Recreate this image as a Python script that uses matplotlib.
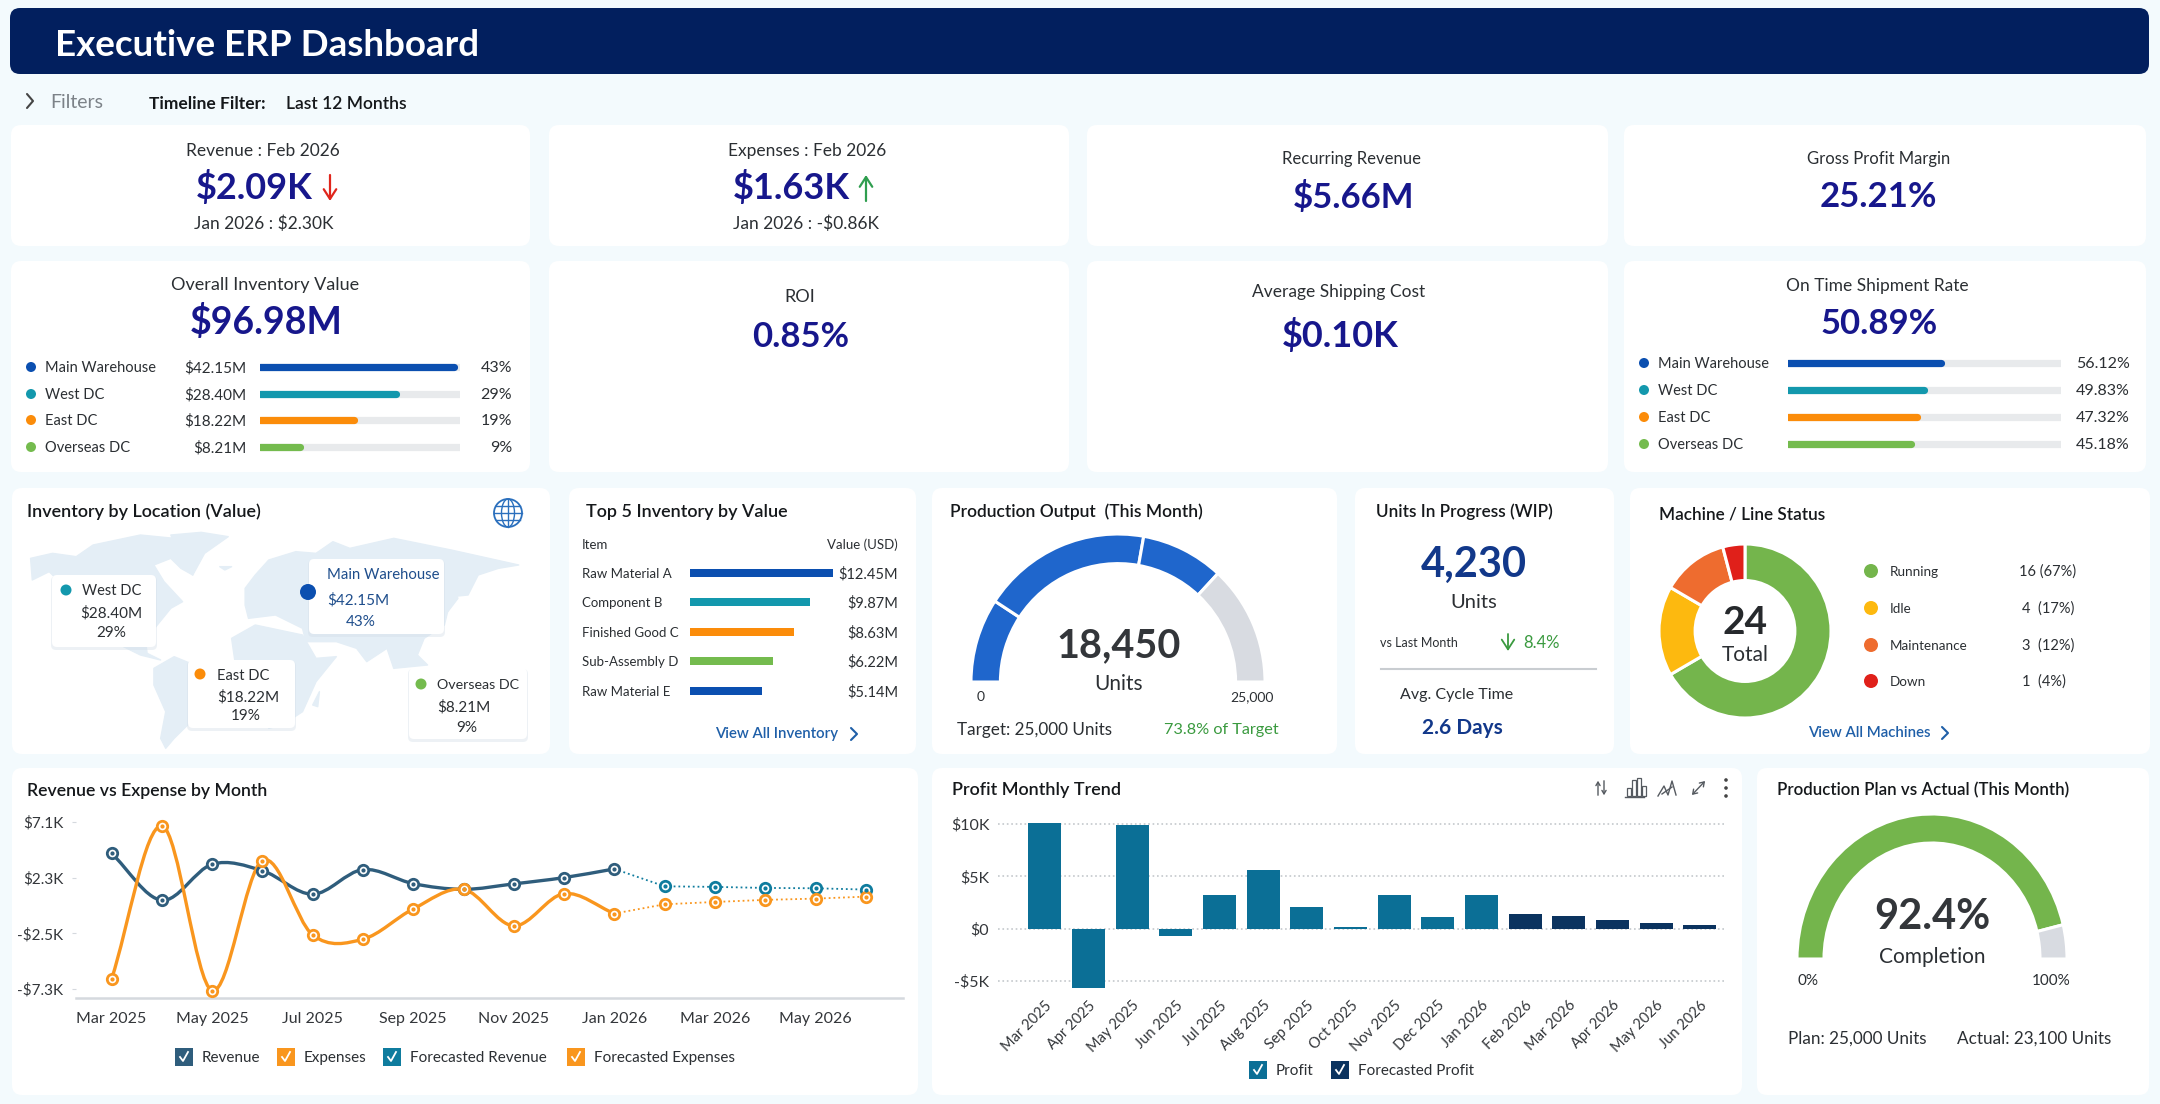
#!/usr/bin/python
import numpy as np
import matplotlib
matplotlib.use('Agg')
import matplotlib.pyplot as plt
from matplotlib.patches import FancyBboxPatch, Polygon, Circle, Ellipse, PathPatch, Rectangle
from matplotlib.path import Path

plt.rcParams['font.family'] = ['Lato', 'DejaVu Sans']

W, H = 2160, 1104

# line chart
line_months = ['Mar 2025', 'May 2025', 'Jul 2025', 'Sep 2025', 'Nov 2025', 'Jan 2026', 'Mar 2026', 'May 2026']
revenue = [4.40, 0.35, 3.45, 2.90, 0.87, 2.99, 1.78, 1.29, 1.76, 2.30, 3.05]
expenses = [-6.46, 6.76, -7.44, 3.77, -2.64, -3.01, -0.40, 1.29, -1.86, 0.92, -0.80]
fc_revenue = [1.55, 1.50, 1.41, 1.38, 1.27]
fc_expenses = [0.00, 0.20, 0.38, 0.49, 0.66]
line_ticks = [7.1, 2.3, -2.5, -7.3]
line_tick_labels = ['$7.1K', '$2.3K', '-$2.5K', '-$7.3K']

# bar chart
bar_months = ['Mar 2025', 'Apr 2025', 'May 2025', 'Jun 2025', 'Jul 2025', 'Aug 2025', 'Sep 2025', 'Oct 2025',
              'Nov 2025', 'Dec 2025', 'Jan 2026', 'Feb 2026', 'Mar 2026', 'Apr 2026', 'May 2026', 'Jun 2026']
profit = [10.1, -5.64, 9.95, -0.73, 3.2, 5.58, 2.05, 0.13, 3.2, 1.09, 3.2]
fc_profit = [1.44, 1.19, 0.87, 0.58, 0.38]
bar_ticks = [10, 5, 0, -5]
bar_tick_labels = ['$10K', '$5K', '$0', '-$5K']

# small tables
sites = ['Main Warehouse', 'West DC', 'East DC', 'Overseas DC']
site_colors = ['#0b4fb0', '#1398ad', '#fb8c0a', '#74bb4e']
inv_values = ['$42.15M', '$28.40M', '$18.22M', '$8.21M']
inv_pct = ['43%', '29%', '19%', '9%']
inv_fill = [0.97, 0.68, 0.47, 0.20]
ship_pct = [56.12, 49.83, 47.32, 45.18]
top5_items = ['Raw Material A', 'Component B', 'Finished Good C', 'Sub-Assembly D', 'Raw Material E']
top5_values = ['$12.45M', '$9.87M', '$8.63M', '$6.22M', '$5.14M']
top5_bars = [12.45, 10.45, 9.05, 7.2, 6.25]
top5_colors = ['#0b4fb0', '#1398ad', '#fb8c0a', '#74bb4e', '#0b4fb0']
output_parts = [4600, 9300, 4550, 6550]
output_colors = ['#1f66cc', '#1f66cc', '#1f66cc', '#d8dbe1']
plan_parts = [92.4, 7.6]
plan_colors = ['#74b54c', '#d8dbe1']
machine_names = ['Running', 'Idle', 'Maintenance', 'Down']
machine_counts = [16, 4, 3, 1]
machine_labels = ['16 (67%)', '4  (17%)', '3  (12%)', '1  (4%)']
machine_colors = ['#74b54c', '#fdb90f', '#ee6c2f', '#e0201a']

DARK = '#2b2f33'
TITLE = '#15181b'
NAVY = '#17178c'
GREEN = '#3a9a3f'
LINK = '#1f5fa8'

fig = plt.figure(figsize=(W / 100, H / 100), dpi=100, facecolor='#f3fafd')
bg = fig.add_axes([0, 0, 1, 1])
bg.set_xlim(0, W)
bg.set_ylim(H, 0)
bg.axis('off')


def px_axes(x0, y0, x1, y1):
    ax = fig.add_axes([x0 / W, 1 - y1 / H, (x1 - x0) / W, (y1 - y0) / H])
    ax.patch.set_alpha(0)
    return ax


def card(x0, y0, x1, y1, r=10, color='white', shadow=False):
    if shadow:
        bg.add_patch(FancyBboxPatch((x0 - 1, y0 + 1), x1 - x0 + 2, y1 - y0 + 2,
                                    boxstyle='round,pad=0,rounding_size=%d' % r, fc='#d3dee8', ec='none', alpha=0.4))
    bg.add_patch(FancyBboxPatch((x0, y0), x1 - x0, y1 - y0, boxstyle='round,pad=0,rounding_size=%d' % r,
                                fc=color, ec='none'))


def txt(x, y, s, size=12, color=DARK, ha='center', weight='normal'):
    bg.text(x, y + 1, s, fontsize=size, color=color, ha=ha, va='center', fontweight=weight)


def dot(x, y, r, color):
    bg.add_patch(Circle((x, y), r, fc=color, ec='none'))


def arrow(x, y0, y1, color, lw=1.6):
    bg.annotate('', xy=(x, y1), xytext=(x, y0),
                arrowprops=dict(arrowstyle='->,head_width=0.45,head_length=0.7', color=color, lw=lw,
                                shrinkA=0, shrinkB=0))


def chevron(x, y, color, h=8, w=4):
    bg.plot([x - w, x + w, x - w], [y - h, y, y + h], color=color, lw=1.5, solid_capstyle='round')


def check_box(x, y, color, label, size=11):
    bg.add_patch(Rectangle((x, y - 9), 18, 18, fc=color, ec='none'))
    bg.plot([x + 5, x + 8, x + 13], [y, y + 4, y - 5], color='white', lw=1.3)
    txt(x + 27, y, label, size=size, ha='left')


def progress(x0, x1, ys, fills, colors):
    ax = px_axes(x0, ys[0] - 12, x1, ys[-1] + 12)
    ax.set_xlim(0, 1)
    ax.set_ylim(ys[-1] + 12, ys[0] - 12)
    ax.axis('off')
    ax.hlines(ys, 0, 1, colors='#e8eaec', lw=5.2, capstyle='round')
    ax.hlines(ys, 0, fills, colors=colors, lw=5.2, capstyle='round')


def ring(cx, cy, rx, ry, values, colors, width, start=180, gap=2.2, half=False):
    ax = px_axes(cx - rx * 1.02, cy - ry * 1.02, cx + rx * 1.02, cy + ry * 1.02)
    if half:
        values = values + [sum(values)]
    wedges, _ = ax.pie(values, colors=colors + ['white'] if half else colors, startangle=start, counterclock=False,
                       radius=1, wedgeprops=dict(width=width, edgecolor='white', linewidth=gap))
    if half:
        wedges[-1].set_visible(False)
    ax.set_aspect('auto')
    ax.set_xlim(-1.02, 1.02)
    ax.set_ylim(-1.02, 1.02)
    return ax


def smooth_path(x, y):
    # catmull-rom through the points, as bezier segments
    x = np.asarray(x, float)
    y = np.asarray(y, float)
    dx = np.gradient(x)
    dy = np.gradient(y)
    verts = [(x[0], y[0])]
    codes = [Path.MOVETO]
    for i in range(len(x) - 1):
        verts += [(x[i] + dx[i] / 3, y[i] + dy[i] / 3),
                  (x[i + 1] - dx[i + 1] / 3, y[i + 1] - dy[i + 1] / 3),
                  (x[i + 1], y[i + 1])]
        codes += [Path.CURVE4] * 3
    return Path(verts, codes)


# header and filter bar
card(10, 8, 2149, 74, r=10, color='#021f5e')
txt(55, 45, 'Executive ERP Dashboard', size=26.5, color='white', ha='left', weight='bold')
chevron(30, 101, '#444444', h=7, w=3)
txt(50, 102, 'Filters', size=14, color='#7c8288', ha='left')
txt(149, 103, 'Timeline Filter:', size=12.5, color=TITLE, ha='left', weight='bold')
txt(286, 103, 'Last 12 Months', size=12.5, color=TITLE, ha='left', weight='semibold')

# cards
for c in [(11, 125, 530, 246), (549, 125, 1069, 246), (1087, 125, 1608, 246), (1624, 125, 2146, 246),
          (11, 261, 530, 472), (549, 261, 1069, 472), (1087, 261, 1608, 472), (1624, 261, 2146, 472),
          (12, 488, 550, 754), (569, 488, 916, 754), (932, 488, 1337, 754), (1355, 488, 1614, 754),
          (1630, 488, 2150, 754), (12, 768, 918, 1095), (932, 768, 1742, 1095), (1757, 768, 2149, 1095)]:
    card(*c)

# KPI row 1
txt(263, 150, 'Revenue : Feb 2026', size=12.5)
txt(254, 186, '$2.09K', size=26, color=NAVY, weight='bold')
arrow(330, 175, 201, '#e0261c')
txt(264, 223, 'Jan 2026 : $2.30K', size=12.5)
txt(807, 150, 'Expenses : Feb 2026', size=12.5)
txt(791, 186, '$1.63K', size=26, color=NAVY, weight='bold')
arrow(866, 201, 175, '#2f9e4f')
txt(806, 223, 'Jan 2026 : -$0.86K', size=12.5)
txt(1351, 158, 'Recurring Revenue', size=12)
txt(1354, 196, '$5.66M', size=25, color=NAVY, weight='bold')
txt(1879, 158, 'Gross Profit Margin', size=12)
txt(1878, 196, '25.21%', size=25, color=NAVY, weight='bold')

# KPI row 2
txt(265, 284, 'Overall Inventory Value', size=13)
txt(266, 321, '$96.98M', size=27, color=NAVY, weight='bold')
inv_rows = [367, 394, 420, 447]
for i, y in enumerate(inv_rows):
    dot(31, y, 5, site_colors[i])
    txt(45, y, sites[i], size=10.5, ha='left')
    txt(246, y, inv_values[i], size=11, ha='right')
    txt(512, y, inv_pct[i], size=11.5, ha='right')
progress(260, 460, inv_rows, inv_fill, site_colors)

txt(800, 296, 'ROI', size=13)
txt(801, 336, '0.85%', size=25, color=NAVY, weight='bold')
txt(1339, 291, 'Average Shipping Cost', size=12.5)
txt(1340, 334, '$0.10K', size=26, color=NAVY, weight='bold')
txt(1877, 285, 'On Time Shipment Rate', size=12.5)
txt(1879, 323, '50.89%', size=25, color=NAVY, weight='bold')
ship_rows = [363, 390, 417, 444]
for i, y in enumerate(ship_rows):
    dot(1644, y, 5, site_colors[i])
    txt(1658, y, sites[i], size=10.5, ha='left')
    txt(2130, y, '%.2f%%' % ship_pct[i], size=11.5, ha='right')
progress(1788, 2061, ship_rows, [p / 100 for p in ship_pct], site_colors)

# inventory map
txt(27, 511, 'Inventory by Location (Value)', size=13, color=TITLE, ha='left', weight='semibold')
bg.add_patch(Circle((508, 513), 14, fc='none', ec='#2a6fbd', lw=1.3))
bg.add_patch(Ellipse((508, 513), 13, 28, fc='none', ec='#2a6fbd', lw=1))
for dy in (-7, 0, 7):
    half = np.sqrt(14 ** 2 - dy ** 2)
    bg.plot([508 - half, 508 + half], [513 + dy, 513 + dy], color='#2a6fbd', lw=1)
bg.plot([508, 508], [499, 527], color='#2a6fbd', lw=1)

land = [
    [(55, 100), (120, 85), (190, 95), (240, 60), (380, 30), (480, 40), (520, 90), (535, 150), (500, 130), (470, 100),
     (420, 120), (450, 170), (505, 230), (470, 250), (430, 300), (395, 345), (400, 385), (440, 405), (380, 390),
     (330, 365), (250, 300), (170, 200), (110, 140), (60, 165)],
    [(470, 30), (560, 22), (640, 35), (570, 85), (535, 150), (505, 110)],
    [(420, 430), (480, 395), (540, 420), (620, 470), (590, 540), (520, 600), (480, 640), (455, 670), (440, 640),
     (455, 560), (420, 480)],
    [(690, 190), (720, 150), (760, 105), (840, 80), (900, 85), (950, 50), (1000, 70), (1130, 40), (1300, 75),
     (1500, 120), (1440, 130), (1380, 150), (1350, 210), (1300, 215), (1280, 300), (1220, 340), (1200, 390),
     (1230, 420), (1130, 430), (1110, 370), (1050, 410), (1020, 370), (960, 350), (870, 350), (860, 310),
     (780, 270), (700, 280), (690, 240)],
    [(650, 340), (720, 300), (860, 330), (900, 400), (960, 395), (900, 470), (860, 560), (800, 600), (760, 610),
     (730, 520), (720, 430), (660, 410)],
    [(910, 500), (890, 540), (905, 545)],
    [(615, 125), (650, 125), (630, 135)],
    [(1305, 190), (1320, 220), (1290, 260)],
    [(1190, 490), (1260, 440), (1350, 500), (1340, 560), (1230, 570)],
]
for poly in land:
    bg.add_patch(Polygon([(12 + px / 2.96, 525 + py / 3) for px, py in poly], closed=True, fc='#e4eef6', ec='#e4eef6',
                         lw=1, joinstyle='round'))
card(52, 575, 156, 647, r=5, shadow=True)
card(309, 559, 444, 634, r=5, shadow=True)
card(188, 660, 295, 728, r=5, shadow=True)
card(409, 668, 527, 739, r=5, shadow=True)
dot(66, 590, 5.5, site_colors[1])
txt(82, 590, 'West DC', size=10.5, ha='left')
txt(111, 612, inv_values[1], size=11, )
txt(111, 632, inv_pct[1], size=11)
dot(308, 592, 8, site_colors[0])
txt(327, 574, 'Main Warehouse', size=10.7, color='#1f4e8c', ha='left')
txt(327, 599, inv_values[0], size=11, color='#1f4e8c', ha='left')
txt(361, 621, inv_pct[0], size=11, color='#1f4e8c')
dot(200, 674, 5.5, site_colors[2])
txt(217, 675, 'East DC', size=10.5, ha='left')
txt(248, 696, inv_values[2], size=11)
txt(246, 715, inv_pct[2], size=11)
dot(421, 684, 5.5, site_colors[3])
txt(437, 684, 'Overseas DC', size=10.3, ha='left')
txt(464, 706, inv_values[3], size=11)
txt(467, 727, inv_pct[3], size=11)

# top 5 inventory
txt(586, 511, 'Top 5 Inventory by Value', size=13, color=TITLE, ha='left', weight='semibold')
txt(582, 544, 'Item', size=9.5, ha='left')
txt(898, 544, 'Value (USD)', size=9.5, ha='right')
top5_rows = [573, 602, 632, 661, 691]
for i, y in enumerate(top5_rows):
    txt(582, y, top5_items[i], size=9.5, ha='left')
    txt(898, y, top5_values[i], size=10.5, ha='right')
ax = px_axes(690, 560, 833, 702)
ax.barh(top5_rows, top5_bars, height=8, color=top5_colors)
ax.set_xlim(0, 12.45)
ax.set_ylim(702, 560)
ax.axis('off')
txt(715, 733, 'View All Inventory', size=10.8, color=LINK, ha='left', weight='semibold')
chevron(854, 734, LINK, h=6, w=3)

# production output gauge
txt(950, 511, 'Production Output  (This Month)', size=12.5, color=TITLE, ha='left', weight='semibold')
ring(1118, 682, 147, 148, output_parts, output_colors, 0.2, half=True)
txt(1119, 645, '18,450', size=28.5, color='#33363a', weight='bold')
txt(1119, 683, 'Units', size=15)
txt(981, 696, '0', size=10)
txt(1252, 696, '25,000', size=10)
txt(957, 729, 'Target: 25,000 Units', size=12.3, ha='left')
txt(1164, 729, '73.8% of Target', size=11.7, color=GREEN, ha='left')

# WIP
txt(1376, 511, 'Units In Progress (WIP)', size=12.3, color=TITLE, ha='left', weight='semibold')
txt(1474, 564, '4,230', size=30, color='#12388a', weight='bold')
txt(1474, 602, 'Units', size=14.5)
txt(1380, 642, 'vs Last Month', size=9, ha='left')
arrow(1508, 634, 651, GREEN, lw=1.3)
txt(1523, 642, '8.4%', size=12, color=GREEN, ha='left')
bg.plot([1381, 1596], [669, 669], color='#c9cdd1', lw=1.5)
txt(1457, 694, 'Avg. Cycle Time', size=11.5)
txt(1462, 727, '2.6 Days', size=15, color='#12388a', weight='bold')

# machine status
txt(1659, 514, 'Machine / Line Status', size=12.3, color=TITLE, ha='left', weight='semibold')
ring(1745, 631, 86, 87, machine_counts, machine_colors, 0.42, start=90)
txt(1745, 621, '24', size=28, color='#26292c', weight='bold')
txt(1745, 654, 'Total', size=15)
machine_rows = [571, 608, 645, 681]
for i, y in enumerate(machine_rows):
    dot(1871, y, 7, machine_colors[i])
    txt(1890, y, machine_names[i], size=9.7, ha='left')
    txt(2022 if i else 2019, y, machine_labels[i], size=10.5, ha='left')
txt(1808, 732, 'View All Machines', size=10.8, color=LINK, ha='left', weight='semibold')
chevron(1945, 733, LINK, h=6, w=3)

# revenue vs expense line chart
txt(27, 790, 'Revenue vs Expense by Month', size=12.7, color=TITLE, ha='left', weight='semibold')
ax = px_axes(76, 810, 903, 998)
ax.set_xlim(-0.706, 15.74)
ax.set_ylim(-8.08, 8.13)
n = len(revenue)
xs = np.arange(n)
xf = np.arange(n - 1, n + len(fc_revenue))
rev_color, exp_color, fc_rev_color = '#2f5d7c', '#f9961e', '#0f7c9e'
ax.add_patch(PathPatch(smooth_path(xs, revenue), fc='none', ec=rev_color, lw=2.4, zorder=2))
ax.add_patch(PathPatch(smooth_path(xs, expenses), fc='none', ec=exp_color, lw=2.4, zorder=3))
ax.plot(xf, [revenue[-1]] + fc_revenue, color=fc_rev_color, lw=1.3, ls=':', zorder=2)
ax.plot(xf, [expenses[-1]] + fc_expenses, color=exp_color, lw=1.3, ls=':', zorder=2)
for xv, yv, c in [(xs, revenue, rev_color), (xs, expenses, exp_color),
                  (xf[1:], fc_revenue, fc_rev_color), (xf[1:], fc_expenses, exp_color)]:
    ax.plot(xv, yv, ls='none', marker='o', ms=7.5, mfc='white', mec=c, mew=2, zorder=4)
    ax.plot(xv, yv, ls='none', marker='o', ms=2, color=c, zorder=5)
for s in ['top', 'left', 'right']:
    ax.spines[s].set_visible(False)
ax.spines['bottom'].set_color('#d5d9de')
ax.spines['bottom'].set_linewidth(1.8)
ax.set_xticks(np.arange(0, 16, 2), line_months, fontsize=11.5, color='#33363a')
ax.set_yticks(line_ticks, line_tick_labels, fontsize=11, color='#33363a')
ax.tick_params(axis='x', length=0, pad=10)
ax.tick_params(axis='y', length=3, color='#d5d9de', pad=6)
check_box(175, 1057, rev_color, 'Revenue')
check_box(277, 1057, exp_color, 'Expenses')
check_box(383, 1057, fc_rev_color, 'Forecasted Revenue')
check_box(567, 1057, exp_color, 'Forecasted Expenses')

# profit bar chart
txt(952, 789, 'Profit Monthly Trend', size=13, color=TITLE, ha='left', weight='semibold')
ax = px_axes(997.7, 815, 1726, 990)
ax.set_xlim(-1.08, 15.6)
ax.set_ylim(-5.86, 10.86)
profit_color, fc_profit_color = '#0b6f96', '#0b335f'
ax.bar(np.arange(len(profit)), profit, width=0.75, color=profit_color, zorder=3)
ax.bar(np.arange(len(profit), len(profit) + len(fc_profit)), fc_profit, width=0.75, color=fc_profit_color, zorder=3)
ax.grid(axis='y', ls=':', color='#c4c8cc', lw=1.2, zorder=0)
for s in ax.spines.values():
    s.set_visible(False)
ax.set_xticks(np.arange(len(bar_months)))
ax.set_xticklabels(bar_months, rotation=45, ha='right', rotation_mode='anchor', fontsize=10.5, color='#33363a')
ax.set_yticks(bar_ticks, bar_tick_labels, fontsize=11.5, color='#33363a')
ax.tick_params(axis='both', length=0)
ax.tick_params(axis='x', pad=6)
ax.tick_params(axis='y', pad=6)
check_box(1249, 1070, profit_color, 'Profit')
check_box(1331, 1070, fc_profit_color, 'Forecasted Profit')

# toolbar icons
ic = '#555a60'
bg.annotate('', xy=(1598, 778), xytext=(1598, 798), arrowprops=dict(arrowstyle='->,head_width=0.15,head_length=0.25', color=ic, lw=1))
bg.annotate('', xy=(1604, 798), xytext=(1604, 778), arrowprops=dict(arrowstyle='->,head_width=0.15,head_length=0.25', color=ic, lw=1))
for bx, bh in [(1627, 8), (1632, 16), (1637, 18), (1642, 10)]:
    bg.add_patch(Rectangle((bx, 796 - bh), 3.5, bh, fc='none', ec=ic, lw=0.9))
bg.plot([1625, 1644], [797, 797], color=ic, lw=1)
bg.plot([1658, 1664, 1668, 1672, 1676], [796, 786, 795, 781, 795], color=ic, lw=1)
bg.plot([1662, 1672], [794, 787], color=ic, lw=1)
bg.annotate('', xy=(1707, 779), xytext=(1690, 797), arrowprops=dict(arrowstyle='<->,head_width=0.2,head_length=0.3', color=ic, lw=1))
for dy in (-8, 0, 8):
    dot(1726, 788 + dy, 1.8, '#444444')

# production plan gauge
txt(1777, 789, 'Production Plan vs Actual (This Month)', size=12.2, color=TITLE, ha='left', weight='semibold')
ring(1932, 959, 135, 145, plan_parts, plan_colors, 0.2, half=True)
txt(1932, 916, '92.4%', size=30, color='#33363a', weight='bold')
txt(1932, 956, 'Completion', size=15)
txt(1808, 980, '0%', size=11)
txt(2051, 980, '100%', size=11)
txt(1788, 1038, 'Plan: 25,000 Units', size=12.3, ha='left')
txt(1957, 1038, 'Actual: 23,100 Units', size=12.3, ha='left')

fig.savefig('out.png', dpi=100, facecolor=fig.get_facecolor())
